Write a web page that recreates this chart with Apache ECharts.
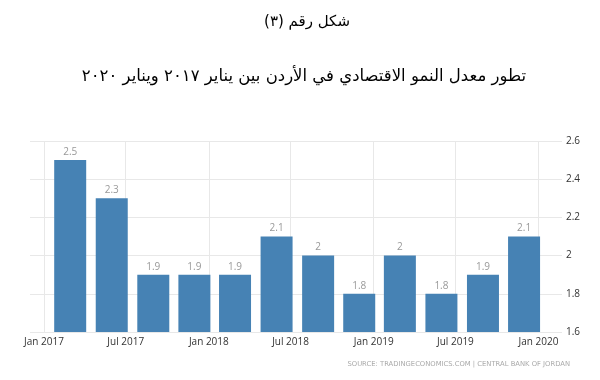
<!DOCTYPE html>
<html>
<head>
<meta charset="utf-8">
<script src="https://cdn.jsdelivr.net/npm/echarts@6/dist/echarts.min.js"></script>
<style>
html,body{margin:0;padding:0;background:#fff;}
#chart{width:600px;height:380px;}
</style>
</head>
<body>
<div id="chart" dir="rtl"></div>
<script>
// Data
var quarterDates = ['2017-02-28','2017-05-31','2017-08-31','2017-11-30',
                    '2018-02-28','2018-05-31','2018-08-31','2018-11-30',
                    '2019-02-28','2019-05-31','2019-08-31','2019-11-30'];
var growthValues = [2.5, 2.3, 1.9, 1.9, 1.9, 2.1, 2, 1.8, 2, 1.8, 1.9, 2.1];
var tickDates = ['2017-01-01','2017-07-01','2018-01-01','2018-07-01','2019-01-01','2019-07-01','2020-01-01'];
var tickLabels = ['Jan 2017','Jul 2017','Jan 2018','Jul 2018','Jan 2019','Jul 2019','Jan 2020'];

var titleText = 'شكل رقم (٣)';
var subtitleText = 'تطور معدل النمو الاقتصادي في الأردن بين يناير ٢٠١٧ ويناير ٢٠٢٠';
var sourceText = 'SOURCE: TRADINGECONOMICS.COM | CENTRAL BANK OF JORDAN';

function ts(s){ return echarts.number.parseDate(s).getTime(); }
var tickValues = tickDates.map(ts);
var labelMap = {};
tickValues.forEach(function(v,i){ labelMap[v] = tickLabels[i]; });

var chart = echarts.init(document.getElementById('chart'), null, {renderer:'canvas'});
chart.setOption({
  animation: false,
  backgroundColor: '#fff',
  graphic: [
    {type:'text', x: 307, y: 22, style:{text: titleText, font:'15px "DejaVu Sans"', fill:'#000', textAlign:'center', textVerticalAlign:'middle'}},
    {type:'text', x: 304, y: 77, style:{text: subtitleText, font:'16.5px "DejaVu Sans"', fill:'#000', textAlign:'center', textVerticalAlign:'middle'}},
    {type:'text', x: 570, y: 364, style:{text: sourceText, font:'6.8px "DejaVu Sans"', fill:'#aaa', textAlign:'right', textVerticalAlign:'middle'}}
  ],
  grid: {left: 30, right: 38, top: 141, bottom: 48, containLabel: false},
  xAxis: {
    type: 'value',
    min: ts('2016-12-01'),
    max: ts('2020-02-22'),
    axisLine: {show: false},
    axisTick: {show: false, customValues: tickValues},
    splitLine: {show: true, lineStyle: {color: '#e8e8e8', width: 1}},
    axisLabel: {
      customValues: tickValues,
      margin: 5,
      color: '#333',
      fontSize: 10,
      fontFamily: 'Open Sans',
      formatter: function(v){ return labelMap[v] || ''; }
    }
  },
  yAxis: {
    type: 'value',
    position: 'right',
    min: 1.6, max: 2.6, interval: 0.2,
    axisLine: {show: false},
    axisTick: {show: false},
    splitLine: {show: true, lineStyle: {color: '#e8e8e8', width: 1}},
    axisLabel: {
      margin: 4, color: '#333', fontSize: 10, fontFamily: 'Open Sans',
      formatter: function(v){ return String(Math.round(v*10)/10); }
    }
  },
  series: [{
    type: 'bar',
    barWidth: 32,
    data: quarterDates.map(function(d,i){ return [ts(d), growthValues[i]]; }),
    itemStyle: {color: '#4682b4'},
    label: {
      show: true, position: 'top', distance: 3,
      color: '#999', fontSize: 10, fontFamily: 'Open Sans',
      formatter: function(p){ return String(p.value[1]); }
    }
  }]
});
</script>
</body>
</html>
